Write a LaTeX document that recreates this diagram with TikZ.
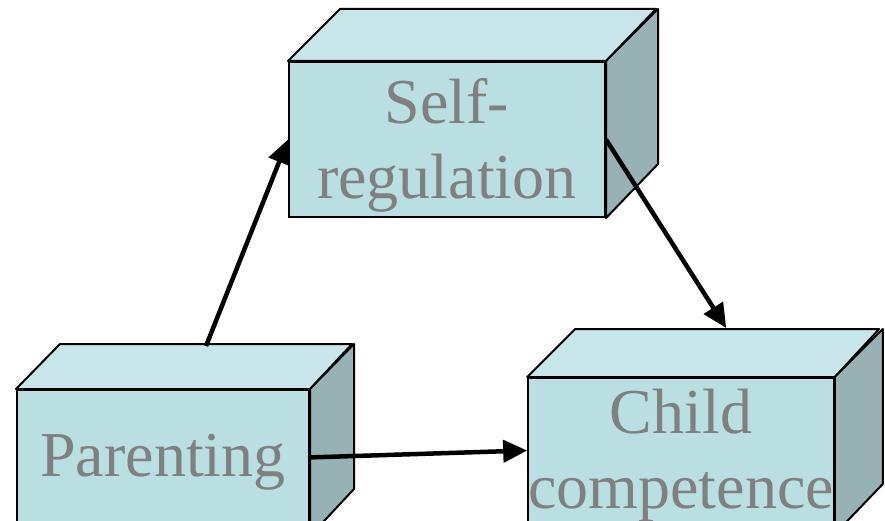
\documentclass[tikz,border=0pt]{standalone}
\usepackage{fontspec}
\setmainfont{Liberation Serif}
\usetikzlibrary{calc,arrows.meta}
\definecolor{boxfront}{RGB}{185,223,227}
\definecolor{boxtop}{RGB}{200,230,233}
\definecolor{boxside}{RGB}{150,178,181}
\definecolor{labelgray}{RGB}{128,128,128}
\begin{document}
\begin{tikzpicture}[x=1pt,y=-1pt]
        \tikzstyle{front}=[draw=black,line width=2pt,fill=boxfront,inner sep=0pt,align=center,text=labelgray,font=\fontsize{64}{75}\selectfont]
        \tikzstyle{topface}=[draw=black,line width=2pt,fill=boxtop,line join=round]
        \tikzstyle{sideface}=[draw=black,line width=2pt,fill=boxside,line join=round]
        \tikzstyle{link}=[draw,line width=4.5pt,-{Triangle[length=24pt,width=22pt]}]
        \useasboundingbox (0,0) rectangle (885,521);
        \clip (0,0) rectangle (885,521);
       \begin{scope}
         % boxes
         \node [front,minimum width=316pt,minimum height=155pt,label={[front,draw=none,fill=none,yshift=-5.5pt]center:Self-\\regulation}] (selfreg) at (447,139.5) {};
         \path[topface] (selfreg.north west) -- ++(52,-52) -- ++(316,0) -- (selfreg.north east) -- cycle;
         \path[sideface] (selfreg.north east) -- ++(52,-52) -- ++(0,155) -- (selfreg.south east) -- cycle;
         \node [front,minimum width=292pt,minimum height=145pt] (parenting) at (163,462.5) {Parenting};
         \path[topface] (parenting.north west) -- ++(44,-45) -- ++(292,0) -- (parenting.north east) -- cycle;
         \path[sideface] (parenting.north east) -- ++(44,-45) -- ++(0,145) -- (parenting.south east) -- cycle;
         \node [front,minimum width=304pt,minimum height=155pt] (child) at (681,455.5) {Child\\competence};
         \path[topface] (child.north west) -- ++(48,-48) -- ++(304,0) -- (child.north east) -- cycle;
         \path[sideface] (child.north east) -- ++(48,-48) -- ++(0,155) -- (child.south east) -- cycle;
         % arrows
         \path[link] ($(parenting.north west)+(190,-43)$) -- (selfreg.west);
         \path[link] (selfreg.east) -- ($(child.north west)+(199,-49)$);
         \path[link] ($(parenting.east)+(-2,-5)$) -- ($(child.west)+(0,-5)$);
        \end{scope}
      \end{tikzpicture}
\end{document}
